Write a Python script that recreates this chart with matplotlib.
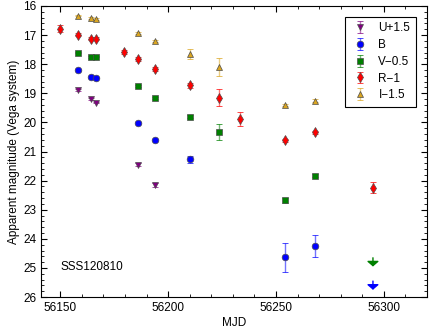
import matplotlib
matplotlib.use("Agg")
from matplotlib import pyplot as plt
from matplotlib.ticker import MultipleLocator

plt.rcParams['font.family'] = ['Liberation Sans', 'DejaVu Sans']

# U+1.5
u_mjd = [56158.1, 56164.0, 56166.3, 56186.2, 56194.1]
u_mag = [18.89, 19.20, 19.32, 21.46, 22.15]
u_err = [0.03, 0.03, 0.03, 0.05, 0.08]

# B
b_mjd = [56158.1, 56164.0, 56166.3, 56186.2, 56194.1, 56210.2, 56254.0, 56268.0]
b_mag = [18.19, 18.45, 18.46, 20.02, 20.60, 21.27, 24.64, 24.24]
b_err = [0.03, 0.03, 0.03, 0.03, 0.03, 0.12, 0.50, 0.38]

# V-0.5
v_mjd = [56158.1, 56164.0, 56166.3, 56186.2, 56194.1, 56210.2, 56223.4, 56254.0, 56268.0]
v_mag = [17.60, 17.75, 17.74, 18.74, 19.15, 19.80, 20.32, 22.68, 21.83]
v_err = [0.03, 0.03, 0.03, 0.03, 0.03, 0.05, 0.28, 0.08, 0.05]

# R-1
r_mjd = [56149.7, 56158.1, 56164.0, 56166.3, 56179.4, 56186.2, 56194.1, 56210.2,
         56223.4, 56233.5, 56254.0, 56268.0, 56295.0]
r_mag = [16.78, 16.99, 17.13, 17.13, 17.59, 17.82, 18.16, 18.73,
         19.15, 19.88, 20.62, 20.34, 22.24]
r_err = [0.13, 0.05, 0.05, 0.05, 0.07, 0.07, 0.07, 0.08,
         0.30, 0.23, 0.06, 0.06, 0.19]

# I-1.5
i_mjd = [56158.1, 56164.0, 56166.3, 56186.2, 56194.1, 56210.2, 56223.4, 56254.0, 56268.0]
i_mag = [16.33, 16.42, 16.45, 16.94, 17.21, 17.66, 18.10, 19.41, 19.25]
i_err = [0.03, 0.03, 0.03, 0.03, 0.03, 0.17, 0.30, 0.04, 0.04]

# upper limits at the last epoch
lim_mjd = [56295.0, 56295.0]
lim_mag = [24.65, 25.45]
lim_colors = ['green', 'blue']

fig = plt.figure(figsize=(4.36, 3.29), dpi=100)
ax = fig.add_axes([0.094, 0.097, 0.885, 0.885])

series = [
    (u_mjd, u_mag, u_err, 'v', 'purple', 'U+1.5'),
    (b_mjd, b_mag, b_err, 'o', 'blue', 'B'),
    (v_mjd, v_mag, v_err, 's', 'green', 'V\u22120.5'),
    (r_mjd, r_mag, r_err, 'd', 'red', 'R\u22121'),
    (i_mjd, i_mag, i_err, '^', 'goldenrod', 'I\u22121.5'),
]
for x, y, e, m, c, lab in series:
    ax.errorbar(x, y, yerr=e, fmt=m, color=c, ecolor=c, elinewidth=1,
                capsize=2.5, markersize=4.8, markeredgecolor='0.3',
                markeredgewidth=0.5, label=lab)
# lighter error bars
for line in ax.collections:
    line.set_alpha(0.55)

for x, y, c in zip(lim_mjd, lim_mag, lim_colors):
    ax.annotate('', xy=(x, y + 0.3), xytext=(x, y),
                arrowprops=dict(arrowstyle='-|>,head_width=0.35,head_length=0.3',
                                color=c, lw=1, shrinkA=0, shrinkB=0))

ax.text(56150, 24.95, 'SSS120810', fontsize=8.5, va='center')

ax.set_xlim(56141, 56320)
ax.set_ylim(26, 16)
ax.xaxis.set_major_locator(MultipleLocator(50))
ax.xaxis.set_minor_locator(MultipleLocator(10))
ax.yaxis.set_major_locator(MultipleLocator(1))
ax.yaxis.set_minor_locator(MultipleLocator(0.2))
ax.tick_params(which='both', direction='in', top=True, right=True, labelsize=8.5)
ax.tick_params(which='major', length=4)
ax.tick_params(which='minor', length=2)

ax.set_xlabel('MJD', fontsize=8.5, labelpad=2)
ax.set_ylabel('Apparent magnitude (Vega system)', fontsize=8.5, labelpad=2)

leg = ax.legend(loc='upper right', fontsize=8.5, numpoints=1, fancybox=False,
                edgecolor='black', framealpha=1, borderaxespad=0.9,
                handlelength=1.5, labelspacing=0.4, borderpad=0.5)
leg.get_frame().set_linewidth(0.8)

fig.savefig('out.png', dpi=100)
